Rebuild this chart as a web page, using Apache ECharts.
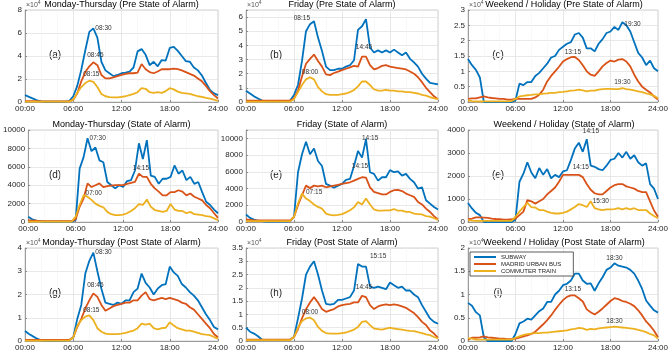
<!DOCTYPE html>
<html>
<head>
<meta charset="utf-8">
<script src="https://cdn.jsdelivr.net/npm/echarts@6/dist/echarts.min.js"></script>
<style>
  html, body { margin: 0; padding: 0; background: #fff; }
  #chart { width: 671px; height: 352px; }
</style>
</head>
<body>
<div id="chart"></div>
<script>
// half-hour samples, 00:00 .. 24:00
const times = [
  0, 0.5, 1, 1.5, 2, 2.5, 3, 3.5, 4, 4.5, 5, 5.5,
  6, 6.5, 7, 7.5, 8, 8.5, 9, 9.5, 10, 10.5, 11, 11.5,
  12, 12.5, 13, 13.5, 14, 14.5, 15, 15.5, 16, 16.5, 17, 17.5,
  18, 18.5, 19, 19.5, 20, 20.5, 21, 21.5, 22, 22.5, 23, 23.5, 24
];
const xTickLabels = ["00:00", "06:00", "12:00", "18:00", "24:00"];
const seriesNames = ["SUBWAY", "MADRID URBAN BUS", "COMMUTER TRAIN"];
const seriesColors = ["#0072BD", "#D95319", "#EDB120"];

// (a) Monday-Thursday, pre state of alarm (x10^4)
const subwayA = [
  0.6, 0.45, 0.3, 0.15, 0.05, 0.02, 0.02, 0.02, 0.02, 0.02, 0.03, 0.08,
  0.5, 1.4, 2.8, 4.5, 6.1, 6.4, 5.6, 3.5, 2.75, 2.5, 2.25, 2.35,
  2.5, 2.55, 2.65, 3.0, 4.4, 4.6, 4.1, 3.2, 3.5, 3.1, 3.65, 3.6,
  4.7, 4.8, 4.45, 4.0, 3.55, 3.5, 3.0, 2.75, 2.3, 1.65, 1.05, 0.75, 0.6
];
const busA = [
  0.08, 0.08, 0.08, 0.08, 0.05, 0.05, 0.05, 0.05, 0.05, 0.05, 0.05, 0.05,
  0.2, 0.75, 1.8, 2.6, 3.1, 3.45, 3.2, 2.35, 2.05, 2.05, 2.15, 2.25,
  2.35, 2.45, 2.5, 2.5, 2.55, 3.3, 2.85, 2.6, 2.5, 2.65, 2.85, 2.85,
  2.85, 2.9, 2.85, 2.75, 2.6, 2.45, 2.3, 2.05, 1.8, 1.4, 0.95, 0.6, 0.3
];
const trainA = [
  0.03, 0.03, 0.03, 0.03, 0.03, 0.03, 0.03, 0.03, 0.03, 0.03, 0.03, 0.03,
  0.2, 0.8, 1.3, 1.65, 1.85, 1.75, 1.3, 0.7, 0.5, 0.42, 0.4, 0.4,
  0.45, 0.5, 0.6, 0.7, 0.85, 1.2, 1.15, 0.85, 0.8, 0.85, 0.8, 0.95,
  1.2, 1.1, 0.9, 0.8, 0.75, 0.7, 0.6, 0.5, 0.45, 0.35, 0.3, 0.2, 0.1
];

// (b) Friday, pre state of alarm (x10^4)
const subwayB = [
  0.8, 0.6, 0.4, 0.25, 0.1, 0.05, 0.05, 0.05, 0.05, 0.05, 0.05, 0.08,
  0.5, 1.2, 2.9, 5.0, 5.5, 5.7, 4.55, 3.6, 2.5, 2.25, 2.25, 2.35,
  2.35, 2.5, 2.6, 2.95, 5.1, 5.35, 5.85, 3.85, 3.5, 3.65, 3.5, 3.65,
  3.5, 3.7, 3.5, 3.3, 3.5, 3.05, 2.8, 2.5, 2.0, 1.65, 1.35, 1.3, 1.25
];
const busB = [
  0.1, 0.1, 0.1, 0.1, 0.1, 0.1, 0.1, 0.1, 0.1, 0.1, 0.1, 0.1,
  0.25, 0.8, 1.8, 2.7, 3.05, 3.35, 2.9, 2.5, 1.95, 1.9, 2.05, 2.15,
  2.25, 2.35, 2.45, 2.55, 2.5, 3.2, 3.2, 2.6, 2.3, 2.4, 2.55, 2.6,
  2.5, 2.45, 2.4, 2.35, 2.3, 2.15, 2.0, 1.75, 1.4, 1.0, 0.7, 0.4, 0.2
];
const trainB = [
  0.03, 0.03, 0.03, 0.03, 0.03, 0.03, 0.03, 0.03, 0.03, 0.03, 0.03, 0.03,
  0.2, 0.7, 1.2, 1.6, 1.75, 1.6, 1.05, 0.75, 0.55, 0.5, 0.5, 0.5,
  0.55, 0.6, 0.7, 0.85, 1.1, 1.45, 1.45, 1.2, 0.9, 0.8, 0.8, 0.85,
  0.8, 0.8, 0.75, 0.75, 0.7, 0.7, 0.65, 0.6, 0.5, 0.45, 0.35, 0.25, 0.2
];

// (c) Weekend / holiday, pre state of alarm (x10^4)
const subwayC = [
  1.4, 1.2, 1.05, 0.8, 0, 0, 0, 0, 0, 0, 0, 0,
  0.05, 0.6, 0.55, 0.65, 0.65, 0.85, 0.95, 1.1, 1.25, 1.45, 1.5, 1.7,
  1.8, 1.9, 1.95, 2.2, 2.25, 2.1, 1.75, 1.75, 1.65, 1.9, 2.05, 2.25,
  2.3, 2.45, 2.35, 2.6, 2.5, 2.3, 1.95, 1.6, 1.45, 1.2, 1.35, 1.1, 1.0
];
const busC = [
  0.1, 0.12, 0.12, 0.15, 0.18, 0.15, 0.13, 0.12, 0.1, 0.1, 0.08, 0.08,
  0.1, 0.1, 0.1, 0.1, 0.1, 0.15, 0.24, 0.4, 0.67, 0.85, 1.0, 1.15,
  1.32, 1.4, 1.46, 1.47, 1.37, 1.2, 1.0, 0.89, 0.85, 1.0, 1.16, 1.27,
  1.35, 1.32, 1.38, 1.4, 1.32, 1.16, 0.89, 0.67, 0.5, 0.4, 0.31, 0.18, 0.08
];
const trainC = [
  0.05, 0.03, 0.02, 0.02, 0.02, 0.02, 0.02, 0.02, 0.02, 0.02, 0.02, 0.03,
  0.1, 0.18, 0.2, 0.22, 0.23, 0.25, 0.25, 0.27, 0.28, 0.3, 0.3, 0.32,
  0.33, 0.35, 0.37, 0.38, 0.4, 0.38, 0.35, 0.37, 0.37, 0.4, 0.42, 0.43,
  0.43, 0.42, 0.42, 0.45, 0.42, 0.4, 0.38, 0.35, 0.32, 0.28, 0.25, 0.2, 0.12
];

// (d) Monday-Thursday, state of alarm
const subwayD = [
  580, 300, 150, 100, 50, 30, 30, 30, 30, 30, 30, 50,
  200, 5800, 7050, 9100, 7700, 8100, 6700, 6500, 4350, 4000, 3650, 4000,
  3800, 4450, 4550, 5600, 8550, 6850, 8900, 5050, 4900, 4150, 4700, 4700,
  4900, 6150, 5250, 5600, 4550, 4900, 4150, 4350, 3250, 2200, 1850, 1350, 950
];
const busD = [
  200, 150, 150, 100, 100, 100, 100, 100, 100, 100, 100, 100,
  300, 1650, 2550, 4200, 3800, 4000, 4200, 3800, 3900, 3950, 4000, 4000,
  4000, 4150, 4250, 4350, 5250, 4900, 4900, 4150, 3650, 3300, 2900, 2900,
  3250, 3250, 3450, 3300, 2900, 3100, 2750, 2550, 2350, 1850, 1500, 950, 450
];
const trainD = [
  50, 50, 50, 50, 50, 50, 50, 50, 50, 50, 50, 50,
  580, 1850, 2900, 2750, 2400, 2000, 1750, 1600, 1100, 850, 750, 750,
  800, 950, 1200, 1500, 1950, 1850, 2450, 1650, 1300, 1200, 1100, 1200,
  1950, 1350, 1200, 1200, 950, 1100, 850, 800, 750, 650, 580, 400, 200
];

// (e) Friday, state of alarm
const subwayE = [
  900, 500, 300, 150, 100, 50, 50, 50, 50, 50, 50, 80,
  600, 5950, 8100, 9600, 8100, 8800, 7300, 6700, 4550, 4350, 4100, 4350,
  4550, 5050, 5150, 6700, 8500, 7700, 9900, 5950, 5750, 4950, 5350, 5350,
  6200, 5950, 6050, 5550, 5750, 5150, 4750, 4000, 4150, 2600, 2200, 1800, 1500
];
const busE = [
  300, 250, 200, 200, 200, 200, 200, 200, 200, 200, 200, 200,
  600, 2000, 3200, 4350, 4050, 4350, 4250, 4350, 4150, 4250, 4350, 4450,
  4550, 4650, 4750, 4950, 5150, 5350, 5300, 4150, 3600, 3450, 3300, 3300,
  3600, 3800, 3850, 3700, 3400, 3200, 3000, 2400, 2100, 1600, 1200, 700, 300
];
const trainE = [
  100, 100, 100, 100, 100, 100, 100, 100, 100, 100, 100, 100,
  600, 2200, 3400, 2800, 2500, 2100, 1800, 1600, 1000, 850, 800, 850,
  950, 1150, 1400, 1750, 2400, 2100, 2800, 2100, 1500, 1350, 1350, 1400,
  1400, 1550, 1350, 1350, 1200, 1200, 1000, 950, 900, 700, 650, 450, 250
];

// (f) Weekend / holiday, state of alarm
const subwayF = [
  830, 590, 400, 300, 0, 0, 0, 0, 0, 0, 0, 0,
  100, 1750, 2100, 2600, 2150, 1900, 2350, 2050, 2300, 1900, 2050, 1950,
  2200, 2250, 2700, 3200, 3450, 3050, 3600, 2450, 2400, 2300, 2250, 2450,
  2700, 2750, 3000, 2800, 3050, 2750, 2900, 2600, 2450, 2550, 1650, 1450, 1000
];
const busF = [
  120, 150, 200, 200, 190, 180, 150, 130, 120, 100, 100, 120,
  150, 300, 450, 950, 900, 800, 900, 1000, 1200, 1350, 1500, 1750,
  2050, 2050, 2050, 2050, 2050, 1950, 1650, 1400, 1250, 1200, 1200, 1350,
  1500, 1600, 1650, 1650, 1550, 1500, 1450, 1350, 1300, 1300, 900, 500, 230
];
const trainF = [
  80, 60, 50, 50, 50, 50, 50, 50, 50, 50, 50, 50,
  230, 450, 650, 830, 650, 630, 520, 520, 450, 400, 370, 370,
  400, 450, 550, 650, 780, 730, 650, 900, 600, 550, 520, 550,
  550, 560, 600, 550, 600, 550, 600, 520, 520, 520, 370, 260, 160
];

// (g) Monday-Thursday, post state of alarm (x10^4)
const subwayG = [
  0.43, 0.3, 0.2, 0.1, 0.03, 0.02, 0.02, 0.02, 0.02, 0.02, 0.02, 0.03,
  0.15, 0.95, 1.55, 2.9, 3.45, 3.8, 3.0, 2.25, 1.65, 1.6, 1.55, 1.65,
  1.6, 1.75, 1.75, 2.1, 2.25, 2.9, 2.5, 2.3, 2.0, 2.25, 2.4, 2.45,
  3.2, 2.95, 2.8, 2.45, 2.3, 2.1, 1.95, 1.75, 1.45, 1.15, 0.9, 0.6, 0.5
];
const busG = [
  0.05, 0.05, 0.05, 0.05, 0.05, 0.05, 0.05, 0.05, 0.05, 0.05, 0.05, 0.05,
  0.15, 0.6, 0.95, 1.4, 1.75, 2.05, 1.9, 1.55, 1.3, 1.4, 1.5, 1.55,
  1.6, 1.65, 1.65, 1.75, 1.75, 1.95, 2.1, 1.8, 1.75, 1.8, 1.85, 1.8,
  1.85, 1.8, 1.75, 1.65, 1.6, 1.45, 1.35, 1.15, 0.95, 0.75, 0.55, 0.3, 0.15
];
const trainG = [
  0.02, 0.02, 0.02, 0.02, 0.02, 0.02, 0.02, 0.02, 0.02, 0.02, 0.02, 0.02,
  0.15, 0.65, 0.9, 1.05, 1.1, 0.9, 0.55, 0.4, 0.32, 0.3, 0.3, 0.3,
  0.32, 0.35, 0.4, 0.45, 0.55, 0.75, 0.7, 0.75, 0.55, 0.5, 0.55, 0.57,
  0.8, 0.67, 0.55, 0.5, 0.45, 0.45, 0.4, 0.35, 0.3, 0.27, 0.25, 0.17, 0.1
];

// (h) Friday, post state of alarm (x10^4)
const subwayH = [
  0.5, 0.35, 0.28, 0.18, 0.05, 0.03, 0.03, 0.03, 0.03, 0.03, 0.03, 0.05,
  0.15, 0.85, 1.6, 2.5, 2.8, 3.0, 2.5, 1.9, 1.4, 1.37, 1.4, 1.55,
  1.55, 1.6, 1.65, 1.9, 2.9, 2.8, 2.8, 2.05, 2.0, 2.05, 2.0, 1.95,
  2.2, 2.1, 2.0, 2.05, 1.9, 1.9, 1.75, 1.65, 1.35, 1.1, 0.85, 0.72, 0.65
];
const busH = [
  0.05, 0.05, 0.05, 0.05, 0.05, 0.05, 0.05, 0.05, 0.05, 0.05, 0.05, 0.05,
  0.15, 0.45, 0.85, 1.2, 1.45, 1.65, 1.45, 1.2, 1.1, 1.15, 1.2, 1.3,
  1.35, 1.38, 1.4, 1.45, 1.45, 1.7, 1.65, 1.35, 1.2, 1.3, 1.35, 1.38,
  1.35, 1.38, 1.35, 1.3, 1.25, 1.15, 1.05, 0.9, 0.72, 0.6, 0.4, 0.28, 0.12
];
const trainH = [
  0.03, 0.03, 0.03, 0.03, 0.03, 0.03, 0.03, 0.03, 0.03, 0.03, 0.03, 0.03,
  0.15, 0.5, 0.75, 0.85, 0.88, 0.78, 0.53, 0.38, 0.3, 0.28, 0.28, 0.28,
  0.3, 0.32, 0.37, 0.43, 0.53, 0.72, 0.75, 0.6, 0.47, 0.45, 0.43, 0.47,
  0.5, 0.47, 0.45, 0.43, 0.4, 0.38, 0.37, 0.33, 0.3, 0.25, 0.22, 0.15, 0.1
];

// (i) Weekend / holiday, post state of alarm (x10^4)
const subwayI = [
  0.82, 0.76, 0.62, 0.55, 0.08, 0, 0, 0, 0, 0, 0, 0,
  0.15, 0.38, 0.42, 0.48, 0.46, 0.55, 0.64, 0.7, 0.84, 0.84, 1.0, 1.08,
  1.2, 1.23, 1.3, 1.45, 1.45, 1.3, 1.23, 1.24, 1.08, 1.24, 1.37, 1.53,
  1.58, 1.67, 1.62, 1.6, 1.58, 1.53, 1.45, 1.3, 1.12, 0.87, 0.76, 0.66, 0.61
];
const busI = [
  0.03, 0.07, 0.07, 0.08, 0.1, 0.08, 0.07, 0.06, 0.05, 0.05, 0.04, 0.04,
  0.05, 0.07, 0.1, 0.12, 0.15, 0.2, 0.28, 0.36, 0.45, 0.55, 0.67, 0.78,
  0.88, 0.95, 0.98, 0.98, 0.92, 0.85, 0.68, 0.62, 0.57, 0.63, 0.7, 0.78,
  0.86, 0.92, 0.9, 0.86, 0.84, 0.8, 0.75, 0.66, 0.55, 0.42, 0.33, 0.22, 0.08
];
const trainI = [
  0.06, 0.05, 0.03, 0.03, 0.03, 0.03, 0.03, 0.03, 0.03, 0.03, 0.03, 0.03,
  0.07, 0.1, 0.13, 0.15, 0.16, 0.17, 0.17, 0.18, 0.18, 0.19, 0.2, 0.21,
  0.22, 0.23, 0.25, 0.26, 0.28, 0.27, 0.24, 0.26, 0.25, 0.27, 0.28, 0.29,
  0.3, 0.31, 0.3, 0.29, 0.28, 0.27, 0.26, 0.24, 0.22, 0.19, 0.15, 0.12, 0.05
];

// peak annotations: [hour, value, text, label side]
const notesA = [[8.5, 6.4, "08:30", "right"], [8.75, 3.6, "08:45", "top"], [8.25, 1.9, "08:15", "top"]];
const notesB = [[8.25, 5.95, "08:15", "left"], [14.75, 3.5, "14:45", "top"], [8, 1.75, "08:00", "top"]];
const notesC = [[19.5, 2.55, "19:30", "right"], [13.25, 1.45, "13:15", "top"], [19.5, 0.45, "19:30", "top"]];
const notesD = [[7.5, 9100, "07:30", "right"], [14.25, 5300, "14:15", "top"], [7, 3150, "07:00", "right"]];
const notesE = [[14.25, 10000, "14:15", "right"], [14.25, 6050, "14:15", "top"], [7.25, 3550, "07:15", "right"]];
const notesF = [[14.25, 3950, "14:15", "right"], [14.25, 2150, "14:15", "top"], [15.5, 900, "15:30", "right"]];
const notesG = [[8.5, 3.8, "08:30", "right"], [8.75, 2.15, "08:45", "top"], [8.25, 1.1, "08:15", "top"]];
const notesH = [[15.25, 3.2, "15:15", "right"], [14.75, 1.8, "14:45", "top"], [8, 0.88, "08:00", "top"]];
const notesI = [[18.5, 1.67, "18:30", "top"], [13.25, 1.0, "13:15", "top"], [18.5, 0.31, "18:30", "top"]];

const panels = [
  { title: "Monday-Thursday (Pre State of Alarm)", tag: "(a)", max: 8, step: 2, exp: true, lines: [subwayA, busA, trainA], notes: notesA },
  { title: "Friday (Pre State of Alarm)", tag: "(b)", max: 6.5, step: 1, exp: true, lines: [subwayB, busB, trainB], notes: notesB },
  { title: "Weekend / Holiday (Pre State of Alarm)", tag: "(c)", max: 3, step: 0.5, exp: true, lines: [subwayC, busC, trainC], notes: notesC },
  { title: "Monday-Thursday (State of Alarm)", tag: "(d)", max: 10000, step: 2000, exp: false, lines: [subwayD, busD, trainD], notes: notesD },
  { title: "Friday (State of Alarm)", tag: "(e)", max: 11000, step: 2000, exp: false, lines: [subwayE, busE, trainE], notes: notesE },
  { title: "Weekend / Holiday (State of Alarm)", tag: "(e)", max: 4000, step: 1000, exp: false, lines: [subwayF, busF, trainF], notes: notesF },
  { title: "Monday-Thursday (Post State of Alarm)", tag: "(g)", max: 4, step: 1, exp: true, lines: [subwayG, busG, trainG], notes: notesG },
  { title: "Friday (Post State of Alarm)", tag: "(h)", max: 3.5, step: 0.5, exp: true, lines: [subwayH, busH, trainH], notes: notesH },
  { title: "Weekend / Holiday (Post State of Alarm)", tag: "(i)", max: 2, step: 0.5, exp: true, lines: [subwayI, busI, trainI], notes: notesI },
];

const colLeft = [25, 246, 468];
const colWidth = [193, 192, 192];
const rowTop = [10, 130, 248];
const rowHeight = [92, 92, 94];
const font = "Liberation Sans, Arial, Helvetica, sans-serif";

const chart = echarts.init(document.getElementById("chart"));

const grids = [];
const xAxes = [];
const yAxes = [];
const series = [];
const graphics = [];

panels.forEach((p, i) => {
  const col = i % 3;
  const row = Math.floor(i / 3);
  const left = colLeft[col];
  const top = rowTop[row];

  grids.push({
    left: left,
    top: top,
    width: colWidth[col],
    height: rowHeight[row],
    show: true,
    borderColor: "#c4c4c4",
    borderWidth: 0.8,
  });

  xAxes.push({
    type: "value",
    gridIndex: i,
    min: 0,
    max: 24,
    interval: 6,
    axisLine: { lineStyle: { color: "#8a8a8a", width: 0.8 } },
    axisTick: { inside: true, length: 2, lineStyle: { color: "#8a8a8a" } },
    axisLabel: {
      fontSize: 8,
      color: "#262626",
      fontFamily: font,
      margin: 3,
      formatter: (v) => xTickLabels[Math.round(v / 6)],
    },
    splitLine: { show: true, lineStyle: { color: "#e2e2e2", width: 0.8 } },
    minorTick: { show: false, splitNumber: 3 },
    minorSplitLine: { show: true, lineStyle: { color: "#f3f3f3", width: 0.6 } },
  });

  yAxes.push({
    type: "value",
    gridIndex: i,
    min: 0,
    max: p.max,
    interval: p.step,
    axisLine: { show: true, lineStyle: { color: "#8a8a8a", width: 0.8 } },
    axisTick: { show: true, inside: true, length: 2, lineStyle: { color: "#8a8a8a" } },
    axisLabel: {
      fontSize: 8,
      color: "#262626",
      fontFamily: font,
      margin: 3,
      formatter: (v) => {
        const k = v / p.step;
        return Math.abs(k - Math.round(k)) < 1e-6 ? String(v) : "";
      },
    },
    splitLine: { show: true, lineStyle: { color: "#e2e2e2", width: 0.8 } },
  });

  p.lines.forEach((vals, s) => {
    const note = p.notes[s];
    series.push({
      name: seriesNames[s],
      type: "line",
      xAxisIndex: i,
      yAxisIndex: i,
      data: times.map((t, j) => [t, vals[j]]),
      showSymbol: false,
      symbol: "none",
      lineStyle: { color: seriesColors[s], width: 1.8 },
      itemStyle: { color: seriesColors[s] },
      markPoint: {
        symbol: "circle",
        symbolSize: 0,
        silent: true,
        label: {
          show: true,
          formatter: "{b}",
          position: note[3],
          distance: 2,
          fontSize: 6.5,
          color: "#333",
          fontFamily: font,
        },
        data: [{ name: note[2], coord: [note[0], note[1]] }],
      },
    });
  });

  // panel heading
  graphics.push({
    type: "text",
    x: left + colWidth[col] / 2,
    y: top - 5,
    style: {
      text: p.title,
      fontSize: 9,
      fill: "#000",
      fontFamily: font,
      align: "center",
      verticalAlign: "middle",
    },
  });

  // panel tag
  graphics.push({
    type: "text",
    x: left + 30,
    y: top + 45,
    style: {
      text: p.tag,
      fontSize: 10,
      fill: "#222",
      fontFamily: font,
      align: "center",
      verticalAlign: "middle",
    },
  });

  // exponent marker for x10^4 axes
  if (p.exp) {
    graphics.push({
      type: "text",
      x: left + 1,
      y: top - 5,
      style: {
        text: "×10{sup|4}",
        fontSize: 7,
        fill: "#555",
        fontFamily: font,
        align: "left",
        verticalAlign: "middle",
        rich: {
          sup: { fontSize: 5, fill: "#555", verticalAlign: "top", padding: [0, 0, 5, 0] },
        },
      },
    });
  }
});

const option = {
  animation: false,
  backgroundColor: "#fff",
  grid: grids,
  xAxis: xAxes,
  yAxis: yAxes,
  series: series,
  graphic: graphics,
  legend: {
    data: seriesNames,
    orient: "vertical",
    left: 470,
    top: 252,
    icon: "rect",
    itemWidth: 22,
    itemHeight: 2,
    itemGap: 1,
    padding: [2, 12, 2, 4],
    backgroundColor: "#fff",
    borderColor: "#333",
    borderWidth: 0.8,
    textStyle: { fontSize: 6, color: "#222", fontFamily: font, lineHeight: 6 },
  },
};

chart.setOption(option);
</script>
</body>
</html>
